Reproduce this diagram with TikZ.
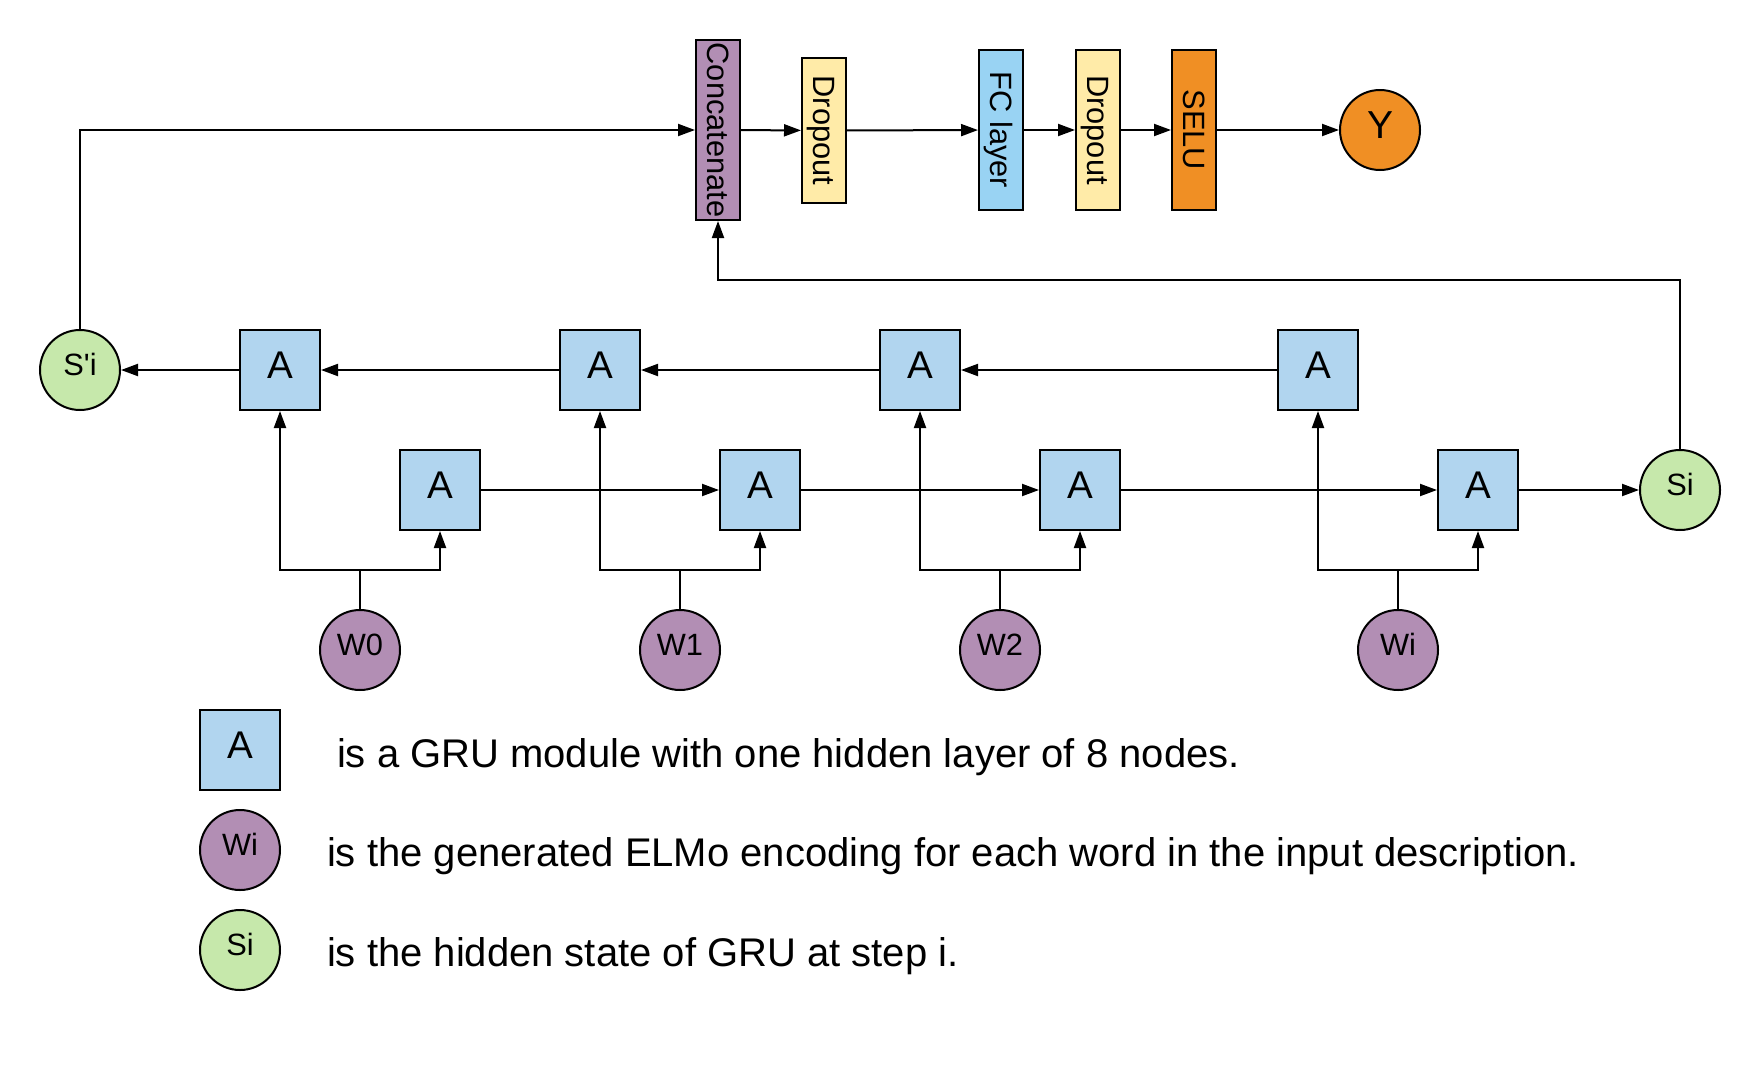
\documentclass[tikz,border=0pt]{standalone}
\usepackage{fontspec}
\setmainfont{Liberation Sans}
\usetikzlibrary{arrows.meta}
\definecolor{grublue}{HTML}{B1D5EF}
\definecolor{wpurple}{HTML}{B28EB4}
\definecolor{sgreen}{HTML}{C6E8AB}
\definecolor{dyellow}{HTML}{FFEBA8}
\definecolor{fcblue}{HTML}{99D3F3}
\definecolor{sorange}{HTML}{F08F24}
\begin{document}
\begin{tikzpicture}[x=0.5pt,y=-0.5pt,
  gru/.style={draw, line width=1pt, fill=grublue, minimum width=40pt, minimum height=40pt, inner sep=0pt,
    font=\fontsize{19.3pt}{23pt}\selectfont, text height=13.8pt, text depth=5.8pt},
  circ/.style={circle, draw, line width=1pt, minimum size=40pt, inner sep=0pt,
    font=\fontsize{15.4pt}{18pt}\selectfont, text height=11pt, text depth=5.8pt},
  wnode/.style={circ, fill=wpurple},
  snode/.style={circ, fill=sgreen},
  layer/.style={draw, line width=1pt, rotate=-90, inner sep=0pt, minimum height=22pt,
    font=\fontsize{15.4pt}{18pt}\selectfont, text height=11pt, text depth=0pt},
  arr/.style={line width=1pt, -{Triangle[length=8.5pt,width=6pt]}},
  conn/.style={line width=1pt},
  legendtext/.style={anchor=base west, inner sep=0pt, font=\fontsize{20pt}{24pt}\selectfont}
]
\useasboundingbox (0,0) rectangle (1760,1076);

% top pipeline
\node[layer, fill=wpurple, minimum width=90pt] (concat) at (718,130) {Concatenate};
\node[layer, fill=dyellow, minimum width=72.8pt] (drop1) at (824,130.5) {Dropout};
\node[layer, fill=fcblue, minimum width=80pt] (fc) at (1001,130) {FC layer};
\node[layer, fill=dyellow, minimum width=80pt] (drop2) at (1098,130) {Dropout};
\node[layer, fill=sorange, minimum width=80pt] (selu) at (1194,130) {SELU};
\node[circ, fill=sorange, font=\fontsize{19.5pt}{23pt}\selectfont, text height=14pt] (y) at (1380,130) {Y};

% GRU rows
\node[gru] (u1) at (280,370) {A};
\node[gru] (u2) at (600,370) {A};
\node[gru] (u3) at (920,370) {A};
\node[gru] (u4) at (1318,370) {A};
\node[gru] (l1) at (440,490) {A};
\node[gru] (l2) at (760,490) {A};
\node[gru] (l3) at (1080,490) {A};
\node[gru] (l4) at (1478,490) {A};

\node[snode] (sp) at (80,370) {S\textquotesingle i};
\node[snode] (si) at (1680,490) {Si};

\node[wnode] (w0) at (360,650) {W0};
\node[wnode] (w1) at (680,650) {W1};
\node[wnode] (w2) at (1000,650) {W2};
\node[wnode] (wi) at (1398,650) {Wi};

\coordinate (j0) at (360,570);
\coordinate (j1) at (680,570);
\coordinate (j2) at (1000,570);
\coordinate (j3) at (1398,570);
\coordinate (tc) at (718,280);

% connectors
\draw[arr] (concat) -- (drop1);
\draw[arr] (drop1) -- (fc);
\draw[arr] (fc) -- (drop2);
\draw[arr] (drop2) -- (selu);
\draw[arr] (selu) -- (y);

\draw[arr] (l1) -- (l2);
\draw[arr] (l2) -- (l3);
\draw[arr] (l3) -- (l4);
\draw[arr] (l4) -- (si);

\draw[arr] (u4) -- (u3);
\draw[arr] (u3) -- (u2);
\draw[arr] (u2) -- (u1);
\draw[arr] (u1) -- (sp);

\foreach \w/\j/\u/\l in {w0/j0/u1/l1, w1/j1/u2/l2, w2/j2/u3/l3, wi/j3/u4/l4}{
  \draw[conn] (\w) -- (\j);
  \draw[arr] (\j) -| (\u);
  \draw[arr] (\j) -| (\l);
}

\draw[arr] (sp) |- (concat);
\draw[arr] (si) |- (tc) -- (concat);

% legend
\node[gru] (lga) at (240,750) {A};
\node[wnode] (lgw) at (240,850) {Wi};
\node[snode] (lgs) at (240,950) {Si};
\node[legendtext] (t1) at (336.7,767.3) {is a GRU module with one hidden layer of 8 nodes.};
\node[legendtext] (t2) at (326.7,866.7) {is the generated ELMo encoding for each word in the input description.};
\node[legendtext] (t3) at (326.7,966.7) {is the hidden state of GRU at step i.};
\end{tikzpicture}
\end{document}
